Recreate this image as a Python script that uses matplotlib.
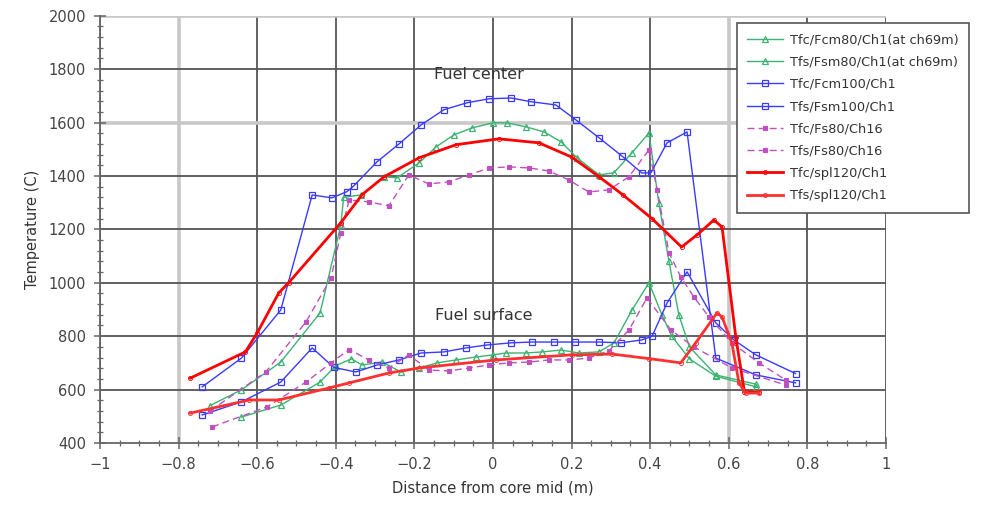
import matplotlib
matplotlib.use("Agg")
import matplotlib.pyplot as plt
from matplotlib.ticker import MultipleLocator

# ---- data: temperature profiles across the core ----
x_fc80 = [-0.72, -0.64, -0.54, -0.44, -0.387, -0.38, -0.336, -0.277, -0.244, -0.188, -0.145, -0.099,
          -0.053, 0.0, 0.036, 0.084, 0.13, 0.173, 0.214, 0.27, 0.308, 0.354, 0.397, 0.422, 0.448,
          0.473, 0.5, 0.567, 0.67]
t_fc80 = [540, 599, 703, 887, 1217, 1320, 1329, 1397, 1393, 1449, 1509, 1554,
          1580, 1599, 1599, 1584, 1565, 1528, 1468, 1404, 1412, 1487, 1561, 1300, 1080,
          880, 760, 655, 620]

x_fs80 = [-0.64, -0.54, -0.44, -0.40, -0.36, -0.333, -0.282, -0.234, -0.188, -0.142, -0.094, -0.043,
          0.0, 0.033, 0.084, 0.125, 0.173, 0.219, 0.27, 0.308, 0.354, 0.397, 0.43, 0.455, 0.5,
          0.567, 0.67]
t_fs80 = [497, 542, 628, 690, 715, 692, 703, 666, 681, 700, 711, 722,
          730, 737, 737, 741, 748, 737, 741, 775, 898, 1000, 880, 800, 715,
          650, 610]

x_fc100 = [-0.74, -0.64, -0.54, -0.46, -0.41, -0.372, -0.354, -0.295, -0.239, -0.183, -0.125, -0.066,
           -0.01, 0.046, 0.097, 0.16, 0.211, 0.27, 0.328, 0.379, 0.402, 0.443, 0.494, 0.567,
           0.669, 0.77]
t_fc100 = [610, 718, 898, 1329, 1318, 1341, 1363, 1453, 1520, 1591, 1648, 1674,
           1689, 1692, 1678, 1666, 1610, 1543, 1475, 1411, 1412, 1524, 1565, 718,
           655, 625]

x_fs100 = [-0.74, -0.64, -0.54, -0.46, -0.405, -0.349, -0.295, -0.239, -0.183, -0.125, -0.069, -0.015,
           0.046, 0.099, 0.155, 0.21, 0.27, 0.326, 0.379, 0.405, 0.443, 0.494, 0.567, 0.613,
           0.669, 0.77]
t_fs100 = [505, 554, 628, 756, 683, 666, 692, 711, 737, 741, 756, 767,
           775, 778, 778, 778, 778, 775, 786, 800, 924, 1041, 850, 786,
           730, 660]

x_fc_ch16 = [-0.72, -0.578, -0.476, -0.412, -0.387, -0.366, -0.316, -0.265, -0.214, -0.163, -0.112,
             -0.061, -0.01, 0.041, 0.092, 0.142, 0.193, 0.244, 0.295, 0.346, 0.397, 0.418, 0.448,
             0.478, 0.511, 0.55, 0.608, 0.677, 0.745]
t_fc_ch16 = [520, 666, 853, 1018, 1187, 1310, 1303, 1288, 1404, 1370, 1378,
             1404, 1430, 1434, 1430, 1419, 1385, 1340, 1348, 1397, 1498, 1348, 1112,
             1022, 947, 872, 775, 700, 636]

x_fs_ch16 = [-0.715, -0.575, -0.476, -0.412, -0.366, -0.316, -0.265, -0.214, -0.163, -0.112, -0.061,
             -0.01, 0.041, 0.092, 0.142, 0.193, 0.244, 0.295, 0.346, 0.392, 0.453, 0.511, 0.608,
             0.745]
t_fs_ch16 = [460, 535, 628, 700, 750, 711, 681, 730, 673, 670, 681,
             692, 700, 703, 711, 711, 718, 745, 823, 943, 823, 760, 681,
             617]

x_fc_spl = [-0.77, -0.63, -0.6, -0.545, -0.52, -0.387, -0.333, -0.277, -0.188, -0.094, 0.015, 0.117,
            0.2, 0.27, 0.33, 0.405, 0.48, 0.52, 0.562, 0.583, 0.618, 0.64, 0.677]
t_fc_spl = [643, 741, 812, 962, 1000, 1225, 1330, 1397, 1468, 1517, 1539, 1524,
            1471, 1397, 1330, 1240, 1134, 1180, 1235, 1209, 797, 591, 591]

x_fs_spl = [-0.77, -0.62, -0.545, -0.417, -0.366, -0.265, -0.188, 0.008, 0.2, 0.303, 0.397, 0.478,
            0.516, 0.57, 0.583, 0.608, 0.626, 0.643, 0.677]
t_fs_spl = [512, 561, 561, 606, 625, 662, 681, 711, 730, 733, 716, 700,
            775, 887, 872, 775, 625, 587, 587]

labels = ["Tfc/Fcm80/Ch1(at ch69m)", "Tfs/Fsm80/Ch1(at ch69m)",
          "Tfc/Fcm100/Ch1", "Tfs/Fsm100/Ch1",
          "Tfc/Fs80/Ch16", "Tfs/Fs80/Ch16",
          "Tfc/spl120/Ch1", "Tfs/spl120/Ch1"]

x_ticks = [-1, -0.8, -0.6, -0.4, -0.2, 0, 0.2, 0.4, 0.6, 0.8, 1]
x_ticklabels = ["\u22121", "\u22120.8", "\u22120.6", "\u22120.4", "\u22120.2", "0",
                "0.2", "0.4", "0.6", "0.8", "1"]
y_ticks = [400, 600, 800, 1000, 1200, 1400, 1600, 1800, 2000]

# ---- figure ----
fig = plt.figure(figsize=(10.05, 5.08), dpi=100)
ax = fig.add_axes([0.0995, 0.128, 0.782, 0.841])
ax.set_xlim(-1, 1)
ax.set_ylim(400, 2000)

# grid: dark lines with a few lighter, heavier ones
for xv in x_ticks:
    light = xv in (-0.8, 0.6)
    ax.axvline(xv, color="#c8c8c8" if light else "#555555",
               lw=2.6 if light else 1.3, zorder=0)
for yv in y_ticks[1:]:
    light = yv in (1600, 2000)
    ax.axhline(yv, color="#c8c8c8" if light else "#555555",
               lw=2.6 if light else 1.3, zorder=0)

green = "#3cb371"
blue = "#3a3aff"
mag = "#c050c0"

style_green = dict(color=green, lw=1.0, marker="^", ms=4.5, mfc="none", mew=0.9)
style_blue = dict(color=blue, lw=1.0, marker="s", ms=4.5, mfc="none", mew=0.9)
style_mag = dict(color=mag, lw=1.0, ls=(0, (5, 3)), marker="s", ms=2.2, mew=0.8)

h = []
h += ax.plot(x_fc80, t_fc80, **style_green)
h += ax.plot(x_fs80, t_fs80, **style_green)
h += ax.plot(x_fc100, t_fc100, **style_blue)
h += ax.plot(x_fs100, t_fs100, **style_blue)
h += ax.plot(x_fc_ch16, t_fc_ch16, **style_mag)
h += ax.plot(x_fs_ch16, t_fs_ch16, **style_mag)
h += ax.plot(x_fc_spl, t_fc_spl, color="#ff0000", lw=2.0, marker="o", ms=3.0,
             mfc="none", mew=0.6, solid_joinstyle="round")
h += ax.plot(x_fs_spl, t_fs_spl, color="#ff3030", lw=2.0, marker="o", ms=3.0,
             mfc="none", mew=0.6, solid_joinstyle="round")

# axes styling
for side in ("top", "right"):
    ax.spines[side].set_visible(False)
for side in ("left", "bottom"):
    ax.spines[side].set_color("#666666")
    ax.spines[side].set_linewidth(1.3)

ax.set_xticks(x_ticks)
ax.set_xticklabels(x_ticklabels)
ax.set_yticks(y_ticks)
ax.xaxis.set_minor_locator(MultipleLocator(0.05))
ax.yaxis.set_minor_locator(MultipleLocator(40))
ax.tick_params(which="major", direction="inout", length=8, width=1.1,
               color="#666666", labelsize=10.5, labelcolor="#444444", pad=6)
ax.tick_params(which="minor", direction="inout", length=5, width=0.9, color="#666666")

ax.set_xlabel("Distance from core mid (m)", fontsize=10.5, color="#333333", labelpad=6)
ax.set_ylabel("Temperature (C)", fontsize=10.5, color="#333333", labelpad=6)

ax.text(-0.036, 1779, "Fuel center", fontsize=11.5, color="#333333",
        ha="center", va="center")
ax.text(-0.023, 876, "Fuel surface", fontsize=11.5, color="#333333",
        ha="center", va="center")

leg = fig.legend(h, labels, loc="upper left", bbox_to_anchor=(0.733, 0.955),
                 fontsize=9.3, frameon=True, fancybox=False, labelspacing=0.72,
                 handlelength=2.8, handletextpad=0.5, borderpad=0.8, borderaxespad=0)
leg.get_frame().set_edgecolor("#555555")
leg.get_frame().set_linewidth(1.2)
leg.get_frame().set_alpha(1.0)
for t in leg.get_texts():
    t.set_color("#333333")

fig.savefig("out.png", dpi=100, facecolor="white")
